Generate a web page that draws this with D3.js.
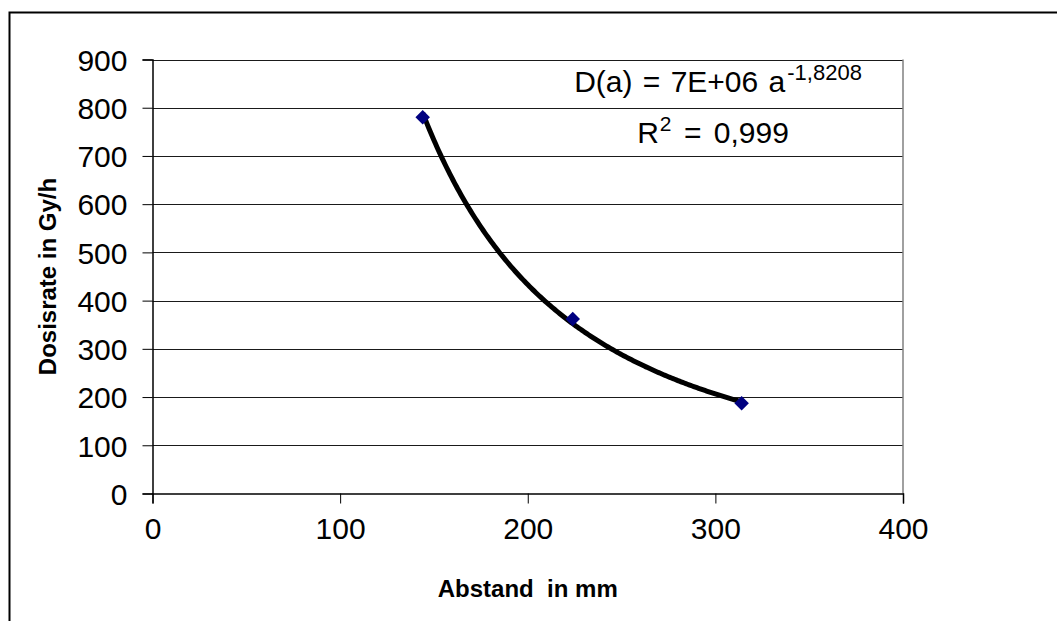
<!DOCTYPE html>
<html>
<head>
<meta charset="utf-8">
<script src="https://cdn.jsdelivr.net/npm/d3@7"></script>
<style>
  html, body { margin: 0; padding: 0; background: #fff; }
  svg { display: block; font-family: "Liberation Sans", Arial, sans-serif; }
</style>
</head>
<body>
<svg id="chart" width="1057" height="621"></svg>
<script>
// Measured dose rate against distance
const distances = [144, 224, 314];          // Abstand in mm
const doseRates = [780, 362, 187];          // Dosisrate in Gy/h
const xTicks = [0, 100, 200, 300, 400];
const yTicks = [0, 100, 200, 300, 400, 500, 600, 700, 800, 900];
const equationMain = "D(a) = 7E+06 a";
const equationExp = "-1,8208";
const rSquaredLabel = "0,999";

const svg = d3.select("#chart");
const W = 1057, H = 621;

// outer chart frame (runs past the right and bottom edges)
svg.append("rect")
  .attr("x", 9.5).attr("y", 12.5)
  .attr("width", W + 20).attr("height", H + 20)
  .attr("fill", "#fff").attr("stroke", "#000").attr("stroke-width", 2);

const plot = { left: 152.5, top: 59.5, right: 903, bottom: 493.5 };

const x = d3.scaleLinear().domain([0, 400]).range([plot.left, plot.right]);
const y = d3.scaleLinear().domain([0, 900]).range([plot.bottom, plot.top]);

// horizontal gridlines
svg.append("g")
  .selectAll("line")
  .data(yTicks.filter(d => d > 0))
  .join("line")
  .attr("x1", plot.left).attr("x2", plot.right)
  .attr("y1", d => Math.round(y(d)) + 0.5).attr("y2", d => Math.round(y(d)) + 0.5)
  .attr("stroke", "#1a1a1a").attr("stroke-width", 1);

// right border of plot area
svg.append("line")
  .attr("x1", plot.right).attr("x2", plot.right)
  .attr("y1", plot.top).attr("y2", plot.bottom)
  .attr("stroke", "#808080").attr("stroke-width", 1.5);

// axes
const xAxis = d3.axisBottom(x).tickValues(xTicks).tickSize(10).tickPadding(14)
  .tickFormat(d3.format("d"));
const yAxis = d3.axisLeft(y).tickValues(yTicks).tickSize(10).tickPadding(15)
  .tickFormat(d3.format("d"));

const gx = svg.append("g").attr("transform", `translate(0,${plot.bottom})`).call(xAxis);
const gy = svg.append("g").attr("transform", `translate(${plot.left},0)`).call(yAxis);

[gx, gy].forEach(g => {
  g.select(".domain").attr("stroke", "#000").attr("stroke-width", 1.5);
  g.selectAll(".tick line").attr("stroke", "#000").attr("stroke-width", 1);
  g.selectAll(".tick text")
    .attr("fill", "#000")
    .style("font-family", "'Liberation Sans', Arial, sans-serif")
    .style("font-size", "30px");
});
gx.selectAll(".tick text").attr("dy", "0.71em");
gy.selectAll(".tick text").attr("dy", "0.36em");

// power-law fit D = c * a^b, least squares in log space
const lx = distances.map(Math.log), ly = doseRates.map(Math.log);
const mx = d3.mean(lx), my = d3.mean(ly);
const b = d3.sum(lx, (v, i) => (v - mx) * (ly[i] - my)) / d3.sum(lx, v => (v - mx) ** 2);
const c = Math.exp(my - b * mx);

const aMin = d3.min(distances), aMax = d3.max(distances);
const curve = d3.range(0, 201).map(i => {
  const a = aMin + (aMax - aMin) * i / 200;
  return [a, c * Math.pow(a, b)];
});

svg.append("path")
  .datum(curve)
  .attr("fill", "none")
  .attr("stroke", "#000")
  .attr("stroke-width", 5)
  .attr("d", d3.line().x(d => x(d[0])).y(d => y(d[1])));

// data markers (navy diamonds)
const diamond = d3.symbol().type(d3.symbolSquare).size(105);
svg.append("g")
  .selectAll("path")
  .data(distances.map((d, i) => [d, doseRates[i]]))
  .join("path")
  .attr("d", diamond)
  .attr("transform", d => `translate(${x(d[0])},${y(d[1])}) rotate(45)`)
  .attr("fill", "#000080");

// trendline equation and R²
const eq = svg.append("text")
  .attr("x", 718).attr("y", 92)
  .attr("text-anchor", "middle")
  .attr("xml:space", "preserve")
  .style("font-size", "30px")
  .style("word-spacing", "2px")
  .attr("fill", "#000");
eq.append("tspan").text(equationMain);
eq.append("tspan").attr("dx", 2).attr("dy", -12).style("font-size", "22px").text(equationExp);

const r2 = svg.append("text")
  .attr("x", 713).attr("y", 143)
  .attr("text-anchor", "middle")
  .attr("xml:space", "preserve")
  .style("font-size", "30px")
  .style("word-spacing", "4px")
  .attr("fill", "#000");
r2.append("tspan").text("R");
r2.append("tspan").attr("dx", 1).attr("dy", -12).style("font-size", "21px").text("2");
r2.append("tspan").attr("dy", 12).text(" = " + rSquaredLabel);

// axis titles
svg.append("text")
  .attr("x", (plot.left + plot.right) / 2).attr("y", 597)
  .attr("text-anchor", "middle")
  .attr("xml:space", "preserve")
  .style("white-space", "pre")
  .style("font-size", "24px").style("font-weight", "bold")
  .text("Abstand  in mm");

svg.append("text")
  .attr("transform", `translate(56,${(plot.top + plot.bottom) / 2}) rotate(-90)`)
  .attr("text-anchor", "middle")
  .style("font-size", "24px").style("font-weight", "bold")
  .text("Dosisrate in Gy/h");
</script>
</body>
</html>
